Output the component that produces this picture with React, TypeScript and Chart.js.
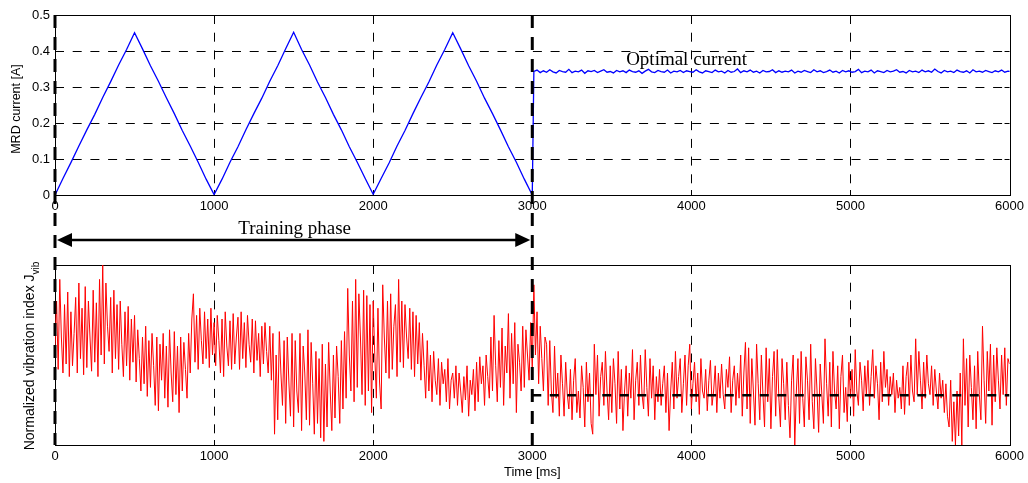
import { useEffect, useRef } from "react";
import { Chart, registerables } from "chart.js";

Chart.register(...registerables);

// ---------- data ----------
const TIME_TICKS = [0, 1000, 2000, 3000, 4000, 5000, 6000];
const TIME_GRID = [1000, 2000, 4000, 5000];
const CURRENT_TICKS = [0, 0.1, 0.2, 0.3, 0.4, 0.5];
const CURRENT_GRID = [0.1, 0.2, 0.3, 0.4];

const TRAINING_START = 0;
const TRAINING_END = 3000;

// MRD current during the training sweep, one sample every 50 ms (0..3000 ms)
const TRAINING_STEP = 50;
const TRAINING_CURRENT = [
  0, 0.046, 0.09, 0.136, 0.181, 0.224, 0.271, 0.315, 0.361, 0.404,
  0.451, 0.406, 0.359, 0.316, 0.27, 0.226, 0.179, 0.136, 0.091, 0.044,
  0.001, 0.044, 0.091, 0.134, 0.181, 0.226, 0.269, 0.316, 0.359, 0.406,
  0.452, 0.404, 0.361, 0.314, 0.271, 0.224, 0.181, 0.134, 0.091, 0.046,
  0.002, 0.046, 0.089, 0.136, 0.179, 0.226, 0.271, 0.314, 0.361, 0.404,
  0.451, 0.406, 0.359, 0.316, 0.269, 0.226, 0.181, 0.134, 0.091, 0.044,
  0,
];

// MRD current held at the optimum, one sample every 20 ms from 3010 ms
const OPTIMAL_START = 3010;
const OPTIMAL_STEP = 20;
const OPTIMAL_CURRENT = [
  0.343, 0.347, 0.34, 0.345, 0.341, 0.348, 0.342, 0.339, 0.346, 0.343,
  0.341, 0.349, 0.34, 0.344, 0.342, 0.347, 0.338, 0.345, 0.343, 0.346,
  0.34, 0.344, 0.348, 0.341, 0.343, 0.339, 0.346, 0.342, 0.345, 0.34,
  0.347, 0.343, 0.341, 0.345, 0.338, 0.344, 0.349, 0.342, 0.34, 0.346,
  0.343, 0.341, 0.347, 0.339, 0.344, 0.342, 0.346, 0.34, 0.345, 0.343,
  0.341, 0.348, 0.342, 0.339, 0.345, 0.343, 0.34, 0.347, 0.342, 0.344,
  0.339, 0.346, 0.341, 0.343, 0.35, 0.34, 0.345, 0.342, 0.347, 0.341,
  0.344, 0.339, 0.346, 0.342, 0.343, 0.348, 0.34, 0.345, 0.341, 0.344,
  0.342, 0.347, 0.339, 0.344, 0.341, 0.346, 0.343, 0.34, 0.348, 0.342,
  0.345, 0.34, 0.343, 0.347, 0.341, 0.344, 0.339, 0.346, 0.342, 0.345,
  0.341, 0.343, 0.349, 0.34, 0.344, 0.342, 0.347, 0.339, 0.345, 0.343,
  0.34, 0.346, 0.342, 0.344, 0.348, 0.341, 0.343, 0.339, 0.346, 0.342,
  0.344, 0.34, 0.347, 0.342, 0.345, 0.341, 0.35, 0.343, 0.339, 0.346,
  0.342, 0.344, 0.34, 0.347, 0.343, 0.341, 0.345, 0.339, 0.348, 0.342,
  0.344, 0.341, 0.346, 0.343, 0.34, 0.345, 0.342, 0.347, 0.341, 0.344,
  0.343,
];

// Normalized vibration index J_vib, one sample every 10 ms (0..6000 ms)
const VIBRATION_STEP = 10;
const VIBRATION = [
  0.55, 0.8, 0.42, 0.92, 0.6, 0.4, 0.78, 0.45, 0.85, 0.38,
  0.74, 0.44, 0.62, 0.82, 0.4, 0.9, 0.48, 0.76, 0.39, 0.88,
  0.43, 0.8, 0.6, 0.41, 0.86, 0.46, 0.79, 0.38, 0.92, 0.5,
  1.0, 0.45, 0.9, 0.66, 0.52, 0.82, 0.4, 0.86, 0.48, 0.78,
  0.42, 0.8, 0.56, 0.38, 0.74, 0.44, 0.77, 0.36, 0.7, 0.46,
  0.72, 0.35, 0.64, 0.48, 0.3, 0.6, 0.34, 0.66, 0.27, 0.58,
  0.32, 0.62, 0.44, 0.22, 0.6, 0.19, 0.56, 0.36, 0.62, 0.26,
  0.55, 0.21, 0.64, 0.4, 0.24, 0.63, 0.28, 0.55, 0.18, 0.6,
  0.3, 0.57, 0.42, 0.26, 0.62, 0.4, 0.7, 0.84, 0.46, 0.72,
  0.42, 0.76, 0.58, 0.45, 0.74, 0.48, 0.7, 0.43, 0.76, 0.5,
  0.68, 0.44, 0.72, 0.58, 0.4, 0.7, 0.38, 0.74, 0.55, 0.44,
  0.69, 0.42, 0.73, 0.45, 0.6, 0.71, 0.42, 0.74, 0.48, 0.68,
  0.43, 0.72, 0.56, 0.46, 0.7, 0.4, 0.69, 0.47, 0.62, 0.38,
  0.66, 0.45, 0.68, 0.52, 0.4, 0.66, 0.36, 0.62, 0.06, 0.5,
  0.14, 0.63, 0.4, 0.22, 0.58, 0.12, 0.6, 0.35, 0.16, 0.62,
  0.1, 0.58, 0.3, 0.18, 0.62, 0.08, 0.55, 0.4, 0.14, 0.64,
  0.11, 0.57, 0.34, 0.06, 0.52, 0.12, 0.48, 0.04, 0.56, 0.02,
  0.45, 0.1, 0.57, 0.3, 0.08, 0.5, 0.15, 0.55, 0.38, 0.12,
  0.58, 0.2, 0.63, 0.26, 0.87, 0.5, 0.3, 0.8, 0.24, 0.92,
  0.32, 0.84, 0.6, 0.28, 0.86, 0.22, 0.83, 0.3, 0.78, 0.18,
  0.8, 0.5, 0.26, 0.76, 0.35, 0.2, 0.89, 0.6, 0.4, 0.8,
  0.37, 0.84, 0.42, 0.66, 0.78, 0.38, 0.92, 0.46, 0.8, 0.43,
  0.78, 0.6, 0.48, 0.76, 0.42, 0.74, 0.38, 0.72, 0.45, 0.68,
  0.36, 0.62, 0.44, 0.26, 0.58, 0.3, 0.5, 0.24, 0.52, 0.36,
  0.28, 0.48, 0.22, 0.46, 0.34, 0.42, 0.24, 0.48, 0.2, 0.36,
  0.4, 0.26, 0.44, 0.22, 0.4, 0.3, 0.18, 0.38, 0.25, 0.44,
  0.16, 0.36, 0.28, 0.42, 0.19, 0.46, 0.24, 0.49, 0.34, 0.44,
  0.22, 0.5, 0.38, 0.26, 0.6, 0.3, 0.72, 0.44, 0.24, 0.58,
  0.32, 0.65, 0.22, 0.55, 0.4, 0.73, 0.26, 0.62, 0.34, 0.68,
  0.18, 0.56, 0.46, 0.3, 0.66, 0.32, 0.64, 0.5, 0.36, 0.68,
  0.42, 0.89, 0.5, 0.74, 0.34, 0.66, 0.48, 0.3, 0.6, 0.56,
  0.22, 0.58, 0.3, 0.18, 0.55, 0.26, 0.4, 0.16, 0.5, 0.34,
  0.16, 0.46, 0.28, 0.2, 0.42, 0.14, 0.36, 0.48, 0.18, 0.3,
  0.15, 0.44, 0.32, 0.1, 0.46, 0.24, 0.4, 0.12, 0.06, 0.56,
  0.28, 0.5, 0.16, 0.38, 0.46, 0.22, 0.52, 0.3, 0.14, 0.44,
  0.18, 0.48, 0.34, 0.12, 0.52, 0.2, 0.42, 0.08, 0.3, 0.44,
  0.16, 0.4, 0.26, 0.53, 0.14, 0.36, 0.46, 0.22, 0.5, 0.28,
  0.2, 0.53, 0.32, 0.16, 0.48, 0.26, 0.44, 0.14, 0.38, 0.24,
  0.42, 0.22, 0.34, 0.44, 0.18, 0.4, 0.08, 0.3, 0.46, 0.2,
  0.52, 0.26, 0.38, 0.48, 0.18, 0.34, 0.5, 0.22, 0.44, 0.56,
  0.2, 0.34, 0.46, 0.24, 0.4, 0.17, 0.48, 0.3, 0.26, 0.42,
  0.19, 0.36, 0.47, 0.22, 0.3, 0.44, 0.18, 0.4, 0.26, 0.45,
  0.28, 0.2, 0.42, 0.32, 0.49, 0.18, 0.36, 0.44, 0.22, 0.4,
  0.26, 0.5, 0.16, 0.4, 0.57, 0.2, 0.54, 0.12, 0.48, 0.3,
  0.11, 0.56, 0.34, 0.14, 0.5, 0.28, 0.1, 0.54, 0.24, 0.48,
  0.09, 0.38, 0.52, 0.16, 0.53, 0.26, 0.1, 0.48, 0.34, 0.14,
  0.46, 0.22, 0.04, 0.36, 0.5, 0.0, 0.3, 0.48, 0.12, 0.52,
  0.26, 0.1, 0.49, 0.36, 0.14, 0.56, 0.24, 0.09, 0.48, 0.3,
  0.07, 0.45, 0.28, 0.12, 0.59, 0.34, 0.16, 0.46, 0.1, 0.52,
  0.3, 0.2, 0.44, 0.09, 0.38, 0.5, 0.18, 0.32, 0.13, 0.46,
  0.26, 0.42, 0.16, 0.53, 0.3, 0.22, 0.46, 0.36, 0.19, 0.44,
  0.28, 0.47, 0.22, 0.38, 0.53, 0.26, 0.44, 0.34, 0.14, 0.46,
  0.24, 0.52, 0.32, 0.42, 0.22, 0.38, 0.28, 0.4, 0.18, 0.36,
  0.26, 0.32, 0.2, 0.44, 0.17, 0.38, 0.46, 0.22, 0.5, 0.3,
  0.24, 0.59, 0.28, 0.52, 0.36, 0.2, 0.46, 0.26, 0.5, 0.34,
  0.28, 0.44, 0.22, 0.42, 0.3, 0.2, 0.4, 0.26, 0.36, 0.18,
  0.34, 0.16, 0.1, 0.36, 0.02, 0.24, 0.0, 0.3, 0.05, 0.4,
  0.0, 0.59, 0.22, 0.48, 0.1, 0.5, 0.32, 0.14, 0.44, 0.09,
  0.52, 0.28, 0.14, 0.66, 0.36, 0.12, 0.52, 0.3, 0.56, 0.11,
  0.5, 0.24, 0.54, 0.36, 0.2, 0.5, 0.28, 0.54, 0.22, 0.48,
  0.45,
];

// level reached once the optimal current is applied
const VIBRATION_OPTIMAL_LEVEL = 0.276;

// ---------- layout & style ----------
const W = 1028;
const TOP_H = 250;
const BOTTOM_H = 233;
const PLOT_LEFT = 55;
const PAD_RIGHT = 17;
const PAD_TOP = 15;
const TOP_AXIS_H = 55;
const BOTTOM_AXIS_H = 38;
const TICK_LEN = 5;

const SANS = '"Liberation Sans", Arial, sans-serif';
const SERIF = '"Liberation Serif", "Times New Roman", serif';

const GRID_DASH = [9, 8.7];
const MARKER_DASH = [13, 9];
const MARKER_WIDTH = 3;

const crisp = (v: number) => Math.round(v) + 0.5;

function strokeLine(ctx: CanvasRenderingContext2D, x1: number, y1: number, x2: number, y2: number) {
  ctx.beginPath();
  ctx.moveTo(x1, y1);
  ctx.lineTo(x2, y2);
  ctx.stroke();
}

// dashed grid, inward tick marks and the box around the plot area
function drawAxesBox(chart: any, yGrid: number[], yTicks: number[]) {
  const { ctx, chartArea: a, scales } = chart;
  const sx = scales.x;
  const sy = scales.y;
  ctx.save();
  ctx.strokeStyle = "#000";
  ctx.lineWidth = 1;
  ctx.setLineDash(GRID_DASH);
  for (const v of TIME_GRID) {
    const px = crisp(sx.getPixelForValue(v));
    strokeLine(ctx, px, a.top, px, a.bottom);
  }
  for (const v of yGrid) {
    const py = crisp(sy.getPixelForValue(v));
    strokeLine(ctx, a.left, py, a.right, py);
  }
  ctx.setLineDash([]);
  for (const v of TIME_TICKS) {
    const px = crisp(sx.getPixelForValue(v));
    strokeLine(ctx, px, a.top, px, a.top + TICK_LEN);
    strokeLine(ctx, px, a.bottom, px, a.bottom - TICK_LEN);
  }
  for (const v of yTicks) {
    const py = crisp(sy.getPixelForValue(v));
    strokeLine(ctx, a.left, py, a.left + TICK_LEN, py);
    strokeLine(ctx, a.right, py, a.right - TICK_LEN, py);
  }
  const l = crisp(a.left);
  const t = crisp(a.top);
  ctx.strokeRect(l, t, crisp(a.right) - l, crisp(a.bottom) - t);
  ctx.restore();
}

// heavy dashed lines marking the start and end of the training phase
function drawPhaseMarkers(chart: any, y1: number, y2: number, offset: number) {
  const { ctx, scales } = chart;
  ctx.save();
  ctx.strokeStyle = "#000";
  ctx.lineWidth = MARKER_WIDTH;
  ctx.setLineDash(MARKER_DASH);
  ctx.lineDashOffset = offset;
  for (const v of [TRAINING_START, TRAINING_END]) {
    const px = scales.x.getPixelForValue(v);
    strokeLine(ctx, px, y1, px, y2);
  }
  ctx.restore();
}

function drawDoubleArrow(ctx: CanvasRenderingContext2D, x1: number, x2: number, y: number) {
  const headL = 15;
  const headH = 7;
  ctx.save();
  ctx.strokeStyle = "#000";
  ctx.fillStyle = "#000";
  ctx.lineWidth = 2.5;
  strokeLine(ctx, x1 + headL - 1, y, x2 - headL + 1, y);
  ctx.beginPath();
  ctx.moveTo(x1, y);
  ctx.lineTo(x1 + headL, y - headH);
  ctx.lineTo(x1 + headL, y + headH);
  ctx.closePath();
  ctx.fill();
  ctx.beginPath();
  ctx.moveTo(x2, y);
  ctx.lineTo(x2 - headL, y - headH);
  ctx.lineTo(x2 - headL, y + headH);
  ctx.closePath();
  ctx.fill();
  ctx.restore();
}

function timeAxis(height: number, title?: string) {
  return {
    type: "linear" as const,
    min: 0,
    max: 6000,
    afterBuildTicks: (s: any) => {
      s.ticks = TIME_TICKS.map((value) => ({ value }));
    },
    afterFit: (s: any) => {
      s.height = height;
    },
    ticks: {
      callback: (v: any) => String(v),
      font: { family: SANS, size: 13 },
      color: "#000",
      padding: 4,
      maxRotation: 0,
      autoSkip: false,
    },
    grid: { display: false, drawTicks: false },
    border: { display: false },
    title: title
      ? {
          display: true,
          text: title,
          color: "#000",
          font: { family: SANS, size: 13 },
          padding: { top: 0, bottom: 3 },
        }
      : { display: false },
  };
}

function currentChartConfig(): any {
  const series = [
    ...TRAINING_CURRENT.map((y, i) => ({ x: TRAINING_START + i * TRAINING_STEP, y })),
    ...OPTIMAL_CURRENT.map((y, i) => ({ x: OPTIMAL_START + i * OPTIMAL_STEP, y })),
  ];
  return {
    type: "line",
    data: {
      datasets: [
        {
          data: series,
          borderColor: "#0000ff",
          borderWidth: 1.3,
          pointRadius: 0,
          tension: 0,
        },
      ],
    },
    options: {
      responsive: false,
      animation: false,
      devicePixelRatio: 1,
      layout: { padding: { left: 0, right: PAD_RIGHT, top: PAD_TOP, bottom: 0 } },
      plugins: { legend: { display: false }, tooltip: { enabled: false } },
      scales: {
        x: timeAxis(TOP_AXIS_H),
        y: {
          type: "linear",
          min: 0,
          max: 0.5,
          afterBuildTicks: (s: any) => {
            s.ticks = CURRENT_TICKS.map((value) => ({ value }));
          },
          afterFit: (s: any) => {
            s.width = PLOT_LEFT;
          },
          ticks: {
            callback: (v: any) => String(v),
            font: { family: SANS, size: 13 },
            color: "#000",
            padding: 5,
          },
          grid: { display: false, drawTicks: false },
          border: { display: false },
        },
      },
    },
    plugins: [
      {
        id: "currentDecor",
        beforeDatasetsDraw(chart: any) {
          drawAxesBox(chart, CURRENT_GRID, CURRENT_TICKS);
        },
        afterDatasetsDraw(chart: any) {
          const { ctx, chartArea: a, scales } = chart;
          drawPhaseMarkers(chart, a.top, chart.height, 0);

          const x0 = scales.x.getPixelForValue(TRAINING_START);
          const x1 = scales.x.getPixelForValue(TRAINING_END);
          drawDoubleArrow(ctx, x0 + 2, x1 - 2, a.bottom + 45);

          ctx.save();
          ctx.fillStyle = "#000";
          ctx.font = `19px ${SERIF}`;
          ctx.textAlign = "center";
          ctx.textBaseline = "alphabetic";
          ctx.fillText("Training phase", (x0 + x1) / 2 + 1, a.bottom + 39);

          ctx.textAlign = "left";
          ctx.fillText("Optimal current", scales.x.getPixelForValue(3590), scales.y.getPixelForValue(0.361));

          ctx.font = `12.5px ${SANS}`;
          ctx.textAlign = "center";
          ctx.textBaseline = "middle";
          ctx.translate(16.5, 109);
          ctx.rotate(-Math.PI / 2);
          ctx.fillText("MRD current [A]", 0, 0);
          ctx.restore();
        },
      },
    ],
  };
}

function vibrationChartConfig(): any {
  const series = VIBRATION.map((y, i) => ({ x: i * VIBRATION_STEP, y }));
  const optimalLevel = [
    { x: TRAINING_END, y: VIBRATION_OPTIMAL_LEVEL },
    { x: 6000, y: VIBRATION_OPTIMAL_LEVEL },
  ];
  const period = MARKER_DASH[0] + MARKER_DASH[1];
  return {
    type: "line",
    data: {
      datasets: [
        {
          data: optimalLevel,
          borderColor: "#000",
          borderWidth: 2.5,
          borderDash: [9, 8.5],
          pointRadius: 0,
          tension: 0,
        },
        {
          data: series,
          borderColor: "#ff0000",
          borderWidth: 1,
          pointRadius: 0,
          tension: 0,
        },
      ],
    },
    options: {
      responsive: false,
      animation: false,
      devicePixelRatio: 1,
      layout: { padding: { left: 0, right: PAD_RIGHT, top: PAD_TOP, bottom: 0 } },
      plugins: { legend: { display: false }, tooltip: { enabled: false } },
      scales: {
        x: timeAxis(BOTTOM_AXIS_H, "Time [ms]"),
        y: {
          type: "linear",
          min: 0,
          max: 1,
          afterFit: (s: any) => {
            s.width = PLOT_LEFT;
          },
          ticks: { display: false },
          grid: { display: false, drawTicks: false },
          border: { display: false },
        },
      },
    },
    plugins: [
      {
        id: "vibrationDecor",
        beforeDatasetsDraw(chart: any) {
          drawAxesBox(chart, [], []);
        },
        afterDatasetsDraw(chart: any) {
          const { ctx, chartArea: a } = chart;
          drawPhaseMarkers(chart, 0, a.bottom, (TOP_H - PAD_TOP) % period);

          const main = "Normalized vibration index J";
          const sub = "vib";
          ctx.save();
          ctx.fillStyle = "#000";
          ctx.textBaseline = "alphabetic";
          ctx.textAlign = "left";
          ctx.font = `14px ${SANS}`;
          const wMain = ctx.measureText(main).width;
          ctx.font = `10px ${SANS}`;
          const wSub = ctx.measureText(sub).width;
          const total = wMain + wSub;
          ctx.translate(34, 106);
          ctx.rotate(-Math.PI / 2);
          ctx.font = `14px ${SANS}`;
          ctx.fillText(main, -total / 2, 0);
          ctx.font = `10px ${SANS}`;
          ctx.fillText(sub, -total / 2 + wMain, 4.5);
          ctx.restore();
        },
      },
    ],
  };
}

export default function App() {
  const topRef = useRef<HTMLCanvasElement>(null);
  const bottomRef = useRef<HTMLCanvasElement>(null);

  useEffect(() => {
    const top = new Chart(topRef.current as HTMLCanvasElement, currentChartConfig());
    const bottom = new Chart(bottomRef.current as HTMLCanvasElement, vibrationChartConfig());
    return () => {
      top.destroy();
      bottom.destroy();
    };
  }, []);

  return (
    <div
      style={{
        position: "absolute",
        left: 0,
        top: 0,
        width: W,
        height: TOP_H + BOTTOM_H,
        background: "#fff",
      }}
    >
      <canvas
        ref={topRef}
        width={W}
        height={TOP_H}
        style={{ position: "absolute", left: 0, top: 0, width: W, height: TOP_H, display: "block" }}
      />
      <canvas
        ref={bottomRef}
        width={W}
        height={BOTTOM_H}
        style={{ position: "absolute", left: 0, top: TOP_H, width: W, height: BOTTOM_H, display: "block" }}
      />
    </div>
  );
}
